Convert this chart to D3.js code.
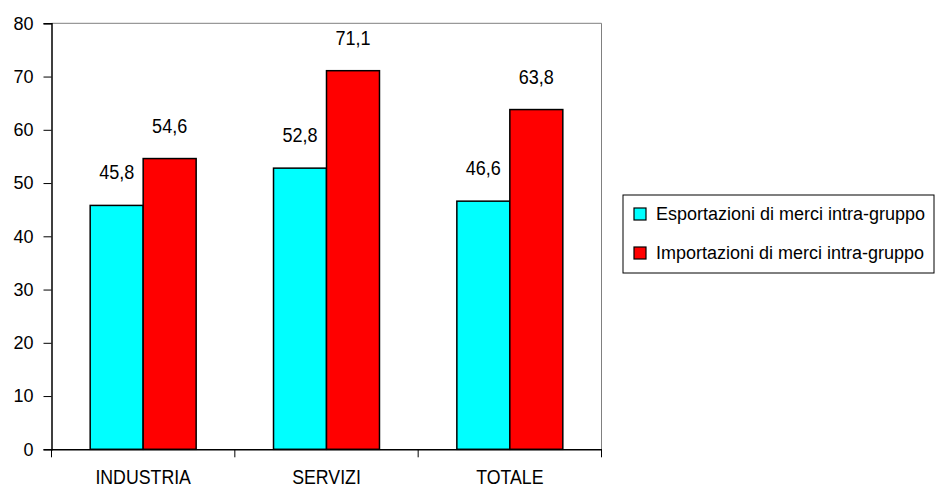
<!DOCTYPE html>
<html lang="it">
<head>
<meta charset="UTF-8">
<title>Scambi intra-gruppo</title>
<script src="https://d3js.org/d3.v7.min.js"></script>
<style>
    body { margin: 0; background: #fff; }
    svg { display: block; font-family: "Liberation Sans", Arial, sans-serif; }
    .lbl { font-size: 18px; fill: #000; }
    .val { font-size: 20.5px; fill: #000; }
    .cat-lbl { font-size: 19.5px; fill: #000; }
</style>
</head>
<body>
<svg id="chart" width="936" height="494"></svg>
<script>
    // dati
    var categories = ["INDUSTRIA", "SERVIZI", "TOTALE"];
    var seriesNames = ["Esportazioni di merci intra-gruppo", "Importazioni di merci intra-gruppo"];
    var esportazioni = [45.8, 52.8, 46.6];
    var importazioni = [54.6, 71.1, 63.8];
    var yTicks = [0, 10, 20, 30, 40, 50, 60, 70, 80];
    var colors = ["#00ffff", "#ff0000"];

    var svg = d3.select("#chart");
    var pLeft = 51.5, pRight = 601.5, pTop = 23.3, pBottom = 449.3;

    var x = d3.scaleBand().domain(categories).range([pLeft, pRight]).paddingInner(0).paddingOuter(0);
    var x1 = d3.scaleBand().domain([0, 1]).range([0, x.bandwidth()]).paddingInner(0).paddingOuter(0.73);
    var y = d3.scaleLinear().domain([0, 80]).range([pBottom, pTop]);

    // bordo area del grafico (sopra e a destra)
    svg.append("line").attr("x1", pLeft).attr("x2", pRight).attr("y1", pTop).attr("y2", pTop)
        .attr("stroke", "#808080").attr("stroke-width", 1);
    svg.append("line").attr("x1", pRight).attr("x2", pRight).attr("y1", pTop).attr("y2", pBottom)
        .attr("stroke", "#808080").attr("stroke-width", 1);

    // barre
    var rows = categories.map(function(c, i) { return { cat: c, vals: [esportazioni[i], importazioni[i]] }; });
    var g = svg.selectAll(".cat").data(rows).enter().append("g")
        .attr("class", "cat")
        .attr("transform", function(d) { return "translate(" + x(d.cat) + ",0)"; });

    g.selectAll("rect").data(function(d) { return d.vals; }).enter().append("rect")
        .attr("x", function(d, i) { return x1(i); })
        .attr("y", function(d) { return y(d); })
        .attr("width", x1.bandwidth())
        .attr("height", function(d) { return pBottom - y(d); })
        .attr("fill", function(d, i) { return colors[i]; })
        .attr("stroke", "#000").attr("stroke-width", 1.5);

    // etichette dei valori (carattere un po' stretto come nell'originale)
    g.selectAll("text").data(function(d) { return d.vals; }).enter().append("text")
        .attr("class", "val")
        .attr("transform", function(d, i) {
            return "translate(" + (x1(i) + x1.bandwidth() / 2) + "," + (y(d) - 26) + ") scale(0.88,1)";
        })
        .attr("text-anchor", "middle")
        .text(function(d) { return d.toFixed(1).replace(".", ","); });

    // asse y
    var yAxis = svg.append("g").attr("transform", "translate(" + pLeft + ",0)")
        .call(d3.axisLeft(y).tickValues(yTicks).tickSize(8).tickPadding(10));
    yAxis.attr("font-size", null).attr("font-family", null);
    yAxis.select(".domain").attr("stroke", "#000").attr("stroke-width", 1.5);
    yAxis.selectAll(".tick line").attr("stroke", "#000");
    yAxis.selectAll("text").attr("class", "lbl");

    // asse x
    var xAxis = svg.append("g").attr("transform", "translate(0," + pBottom + ")")
        .call(d3.axisBottom(x).tickSize(0).tickPadding(21));
    xAxis.attr("font-size", null).attr("font-family", null);
    xAxis.select(".domain").attr("stroke", "#000").attr("stroke-width", 1.5);
    xAxis.selectAll("text").attr("class", "cat-lbl").attr("transform", "scale(0.91,1)");
    var bounds = categories.map(function(c) { return x(c); }).concat([pRight]);
    xAxis.selectAll(".bound").data(bounds).enter().append("line")
        .attr("x1", function(d) { return d; }).attr("x2", function(d) { return d; })
        .attr("y1", 0).attr("y2", 8).attr("stroke", "#000");

    // legenda
    var lg = svg.append("g").attr("transform", "translate(623,195)");
    lg.append("rect").attr("width", 311).attr("height", 78)
        .attr("fill", "#fff").attr("stroke", "#000").attr("stroke-width", 1);
    var item = lg.selectAll(".item").data(seriesNames).enter().append("g")
        .attr("transform", function(d, i) { return "translate(0," + (19 + i * 39) + ")"; });
    item.append("rect").attr("x", 11).attr("y", -6).attr("width", 12).attr("height", 12)
        .attr("fill", function(d, i) { return colors[i]; }).attr("stroke", "#000").attr("stroke-width", 1.2);
    item.append("text").attr("class", "lbl").attr("x", 33).attr("y", 6).text(function(d) { return d; });
</script>
</body>
</html>
